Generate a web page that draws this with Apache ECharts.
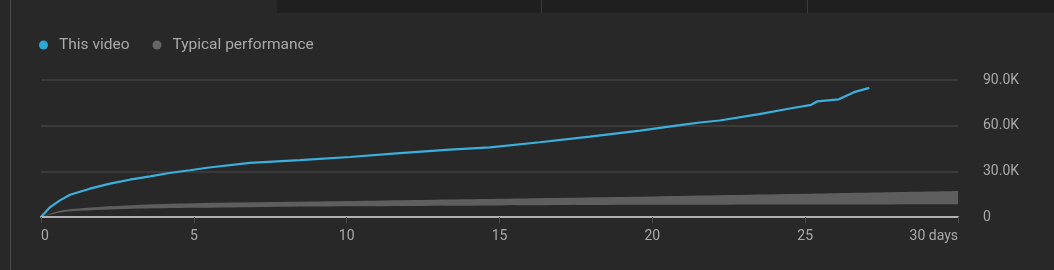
<!DOCTYPE html>
<html>
<head>
<meta charset="utf-8">
<script src="https://cdn.jsdelivr.net/npm/echarts@6/dist/echarts.min.js"></script>
<style>
html,body{margin:0;padding:0;background:#282828;}
#chart{width:1054px;height:270px;}
</style>
</head>
<body>
<div id="chart"></div>
<script>
// ---- data ----
var seriesNames = ['This video', 'Typical performance'];
var videoDays   = [0, 0.3, 0.62, 0.95, 1.6, 2.26, 2.9, 3.57, 4.2, 4.87, 5.5, 6.84, 8.47, 10.1, 11.74, 13.38, 14.69, 16.32, 17.96, 19.6, 20.9, 21.56, 22.2, 23.5, 24.5, 25.2, 25.4, 26.1, 26.6, 27.1];
var videoViews  = [0, 6500, 10900, 14600, 18600, 21900, 24500, 26700, 28900, 30700, 32500, 35500, 37300, 39400, 41900, 44300, 45800, 49100, 52800, 56800, 60300, 62100, 63400, 67600, 71300, 73700, 76000, 77300, 82000, 84800];
var typicalDays = [0, 0.5, 1, 2, 3, 5, 7.5, 10, 15, 20, 25, 30];
var typicalLow  = [0, 2500, 3800, 4800, 5400, 6000, 6600, 7000, 7600, 8000, 8200, 8400];
var typicalHigh = [0, 3500, 5200, 6800, 7800, 9000, 9800, 10500, 12000, 13500, 15200, 17000];
var yTickLabels = {0: '0', 30000: '30.0K', 60000: '60.0K', 90000: '90.0K'};

// ---- build series data ----
var videoData = videoDays.map(function (d, i) { return [d, videoViews[i]]; });
var lowData = typicalDays.map(function (d, i) { return [d, typicalLow[i]]; });
var highData = typicalDays.map(function (d, i) { return [d, typicalHigh[i]]; });

var BG = '#282828';
var chart = echarts.init(document.getElementById('chart'), null, {renderer: 'canvas'});
chart.setOption({
  backgroundColor: BG,
  animation: false,
  textStyle: {fontFamily: 'Roboto'},
  graphic: [
    {type: 'rect', shape: {x: 277, y: 0, width: 777, height: 13}, style: {fill: '#1f1f1f'}, silent: true, z: -1},
    {type: 'line', shape: {x1: 541.5, y1: 0, x2: 541.5, y2: 13}, style: {stroke: '#3a3a3a', lineWidth: 1}, silent: true},
    {type: 'line', shape: {x1: 807.5, y1: 0, x2: 807.5, y2: 13}, style: {stroke: '#3a3a3a', lineWidth: 1}, silent: true},
    {type: 'line', shape: {x1: 10.5, y1: 0, x2: 10.5, y2: 270}, style: {stroke: '#4a4a4a', lineWidth: 1}, silent: true}
  ],
  legend: {
    data: [
      {name: seriesNames[0], icon: 'circle'},
      {name: seriesNames[1], icon: 'circle'}
    ],
    left: 39,
    top: 37,
    padding: 0,
    itemWidth: 9,
    itemHeight: 9,
    itemGap: 23,
    textStyle: {color: '#aaaaaa', fontSize: 15.5, fontFamily: 'Roboto', padding: [0, 0, 0, 6]}
  },
  grid: {left: 41, right: 96, top: 80, bottom: 53, containLabel: false},
  xAxis: {
    type: 'value',
    min: 0,
    max: 30,
    interval: 5,
    z: 10,
    axisLine: {show: true, lineStyle: {color: '#b0b0b0', width: 2}},
    axisTick: {show: true, length: 6, lineStyle: {color: '#4a4a4a', width: 1}},
    splitLine: {show: false},
    axisLabel: {
      color: '#aaaaaa',
      fontSize: 14,
      margin: 12,
      alignMinLabel: 'left',
      alignMaxLabel: 'right',
      formatter: function (v) { return v === 30 ? '30 days' : String(v); }
    }
  },
  yAxis: {
    type: 'value',
    position: 'right',
    min: 0,
    max: 90000,
    interval: 30000,
    axisLine: {show: false},
    axisTick: {show: false},
    splitLine: {lineStyle: {color: '#3a3a3a', width: 2}},
    axisLabel: {
      color: '#aaaaaa',
      fontSize: 14,
      margin: 25,
      align: 'left',
      formatter: function (v) { return yTickLabels[v] !== undefined ? yTickLabels[v] : ''; }
    }
  },
  series: [
    {
      name: seriesNames[1],
      type: 'line',
      data: highData,
      symbol: 'none',
      smooth: 0.3,
      lineStyle: {opacity: 0, width: 0},
      itemStyle: {color: '#666666'},
      areaStyle: {color: '#5e5e5e', opacity: 1},
      z: 1
    },
    {
      name: 'typical-low',
      type: 'line',
      data: lowData,
      symbol: 'none',
      smooth: 0.3,
      lineStyle: {opacity: 0, width: 0},
      itemStyle: {color: BG},
      areaStyle: {color: BG, opacity: 1},
      silent: true,
      z: 2
    },
    {
      name: seriesNames[0],
      type: 'line',
      data: videoData,
      symbol: 'none',
      lineStyle: {color: '#3cb0dc', width: 2.2},
      itemStyle: {color: '#2ea7d6'},
      z: 3
    }
  ]
});
</script>
</body>
</html>
